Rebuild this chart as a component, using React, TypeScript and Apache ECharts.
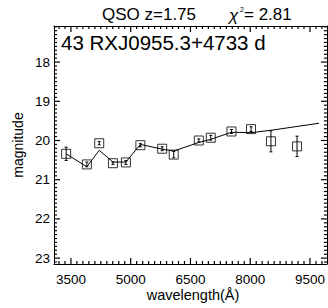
import React, { useEffect, useRef } from "react";
import * as echarts from "echarts";

const wavelengths = [3380, 3900, 4210, 4555, 4880, 5243, 5790, 6080, 6710, 7010, 7530, 8020, 8520, 9175];
const magnitudes = [20.34, 20.61, 20.07, 20.58, 20.56, 20.12, 20.21, 20.36, 20.0, 19.93, 19.77, 19.71, 20.02, 20.15];
const errors = [0.17, 0.06, 0.04, 0.03, 0.05, 0.04, 0.05, 0.08, 0.04, 0.06, 0.05, 0.06, 0.27, 0.26];
const modelWavelengths = [3380, 3900, 4210, 4555, 4880, 5243, 5790, 6080, 6710, 7010, 7530, 8020, 8520, 9725];
const modelMagnitudes = [20.34, 20.67, 20.25, 20.55, 20.55, 20.1, 20.22, 20.27, 20.05, 19.97, 19.79, 19.8, 19.74, 19.56];
const xTickLabels = [3500, 5000, 6500, 8000, 9500];
const yTickLabels = [18, 19, 20, 21, 22, 23];
const xRange = [3075, 9925];
const yRange = [17.08, 23.15];

const FONT = "Liberation Sans, Arial, Helvetica, sans-serif";

function minorTicks(start: number, step: number, lo: number, hi: number, skip: number[]) {
  const out: number[] = [];
  const n0 = Math.ceil((lo - start) / step);
  const n1 = Math.floor((hi - start) / step);
  for (let k = n0; k <= n1; k++) {
    const v = Math.round((start + k * step) * 1000) / 1000;
    if (!skip.some((s) => Math.abs(s - v) < 1e-6)) out.push(v);
  }
  return out;
}

export default function App() {
  const ref = useRef<HTMLDivElement>(null);
  useEffect(() => {
    if (!ref.current) return;
    const chart = echarts.init(ref.current, null, { renderer: "svg" });
    const xMinor = minorTicks(3500, 150, xRange[0], xRange[1], xTickLabels);
    const yMinor = minorTicks(18, 0.1, yRange[0], yRange[1], yTickLabels);
    const lineStyle = { color: "#000", width: 1 };

    const errData = wavelengths.map((w, i) => [w, magnitudes[i], errors[i]]);
    const ptData = wavelengths.map((w, i) => [w, magnitudes[i]]);
    const modelData = modelWavelengths.map((w, i) => [w, modelMagnitudes[i]]);
    const tickData: number[][] = [
      ...xTickLabels.map((v) => [v, yRange[1], 6, 0]),
      ...xMinor.map((v) => [v, yRange[1], 3, 0]),
      ...yTickLabels.map((v) => [xRange[0], v, 6, 1]),
      ...yMinor.map((v) => [xRange[0], v, 3, 1]),
    ];

    const texts: any[] = [
      { type: "text", x: 102, y: 14, style: { text: "QSO z=1.75", fontFamily: FONT, fontSize: 17, fill: "#000", textAlign: "left", textVerticalAlign: "middle" } },
      { type: "text", x: 229, y: 15, style: { text: "χ", fontFamily: FONT, fontSize: 17, fontStyle: "italic", fill: "#000", textAlign: "left", textVerticalAlign: "middle" } },
      { type: "text", x: 240, y: 9, style: { text: "2", fontFamily: FONT, fontSize: 7, fill: "#000", textAlign: "left", textVerticalAlign: "middle" } },
      { type: "text", x: 244, y: 14, style: { text: "= 2.81", fontFamily: FONT, fontSize: 17, fill: "#000", textAlign: "left", textVerticalAlign: "middle" } },
      { type: "text", x: 61, y: 42, style: { text: "43 RXJ0955.3+4733 d", fontFamily: FONT, fontSize: 20.5, fill: "#000", textAlign: "left", textVerticalAlign: "middle" } },
      { type: "text", x: 193, y: 295, style: { text: "wavelength(Å)", fontFamily: FONT, fontSize: 14.5, fill: "#000", textAlign: "center", textVerticalAlign: "middle" } },
      { type: "text", x: 18, y: 145, rotation: Math.PI / 2, style: { text: "magnitude", fontFamily: FONT, fontSize: 14, fill: "#000", textAlign: "center", textVerticalAlign: "middle" } },
    ];

    const valueAxis = (extra: any) => ({
      type: "value",
      axisLine: { show: true, lineStyle },
      splitLine: { show: false },
      axisTick: { show: false },
      ...extra,
    });

    chart.setOption({
      animation: false,
      grid: { left: 54, right: 0, top: 26, bottom: 44, containLabel: false },
      xAxis: [
        valueAxis({
          min: xRange[0],
          max: xRange[1],
          axisLabel: {
            show: true,
            customValues: xTickLabels,
            showMaxLabel: true,
            showMinLabel: true,
            formatter: (v: number) => String(v),
            color: "#000",
            fontFamily: FONT,
            fontSize: 13.5,
            margin: 8,
          },
        }),
        valueAxis({ position: "top", min: xRange[0], max: xRange[1], axisLabel: { show: false } }),
      ],
      yAxis: [
        valueAxis({
          min: yRange[0],
          max: yRange[1],
          inverse: true,
          axisLabel: {
            show: true,
            customValues: yTickLabels,
            showMaxLabel: true,
            showMinLabel: true,
            formatter: (v: number) => String(v),
            color: "#000",
            fontFamily: FONT,
            fontSize: 13.5,
            margin: 4,
          },
        }),
        valueAxis({ position: "right", min: yRange[0], max: yRange[1], inverse: true, axisLabel: { show: false } }),
      ],
      series: [
        {
          type: "line",
          data: modelData,
          showSymbol: false,
          symbol: "none",
          lineStyle: { color: "#000", width: 1 },
          silent: true,
        },
        {
          type: "custom",
          data: errData,
          encode: { x: 0, y: 1 },
          renderItem: (params: any, api: any) => {
            const x = api.value(0);
            const y = api.value(1);
            const e = api.value(2);
            const t = api.coord([x, y - e]);
            const b = api.coord([x, y + e]);
            const cw = 1.5;
            const st = { stroke: "#000", lineWidth: 1 };
            return {
              type: "group",
              children: [
                { type: "line", shape: { x1: t[0], y1: t[1], x2: b[0], y2: b[1] }, style: st },
                { type: "line", shape: { x1: t[0] - cw, y1: t[1], x2: t[0] + cw, y2: t[1] }, style: st },
                { type: "line", shape: { x1: b[0] - cw, y1: b[1], x2: b[0] + cw, y2: b[1] }, style: st },
              ],
            };
          },
          silent: true,
        },
        {
          type: "custom",
          data: tickData,
          encode: { x: 0, y: 1 },
          z: 10,
          renderItem: (params: any, api: any) => {
            const v0 = api.value(0);
            const v1 = api.value(1);
            const len = api.value(2);
            const orient = api.value(3);
            const st = { stroke: "#000", lineWidth: 1.2 };
            if (orient === 0) {
              const b = api.coord([v0, yRange[1]]);
              const t = api.coord([v0, yRange[0]]);
              return {
                type: "group",
                children: [
                  { type: "line", shape: { x1: b[0], y1: b[1], x2: b[0], y2: b[1] - len }, style: st },
                  { type: "line", shape: { x1: t[0], y1: t[1], x2: t[0], y2: t[1] + len }, style: st },
                ],
              };
            }
            const l = api.coord([xRange[0], v1]);
            const r = api.coord([xRange[1], v1]);
            return {
              type: "group",
              children: [
                { type: "line", shape: { x1: l[0], y1: l[1], x2: l[0] + len, y2: l[1] }, style: st },
                { type: "line", shape: { x1: r[0], y1: r[1], x2: r[0] - len, y2: r[1] }, style: st },
              ],
            };
          },
          silent: true,
        },
        {
          type: "scatter",
          data: ptData,
          symbol: "rect",
          symbolSize: 9,
          itemStyle: { color: "rgba(0,0,0,0)", borderColor: "#000", borderWidth: 1 },
          silent: true,
        },
      ],
      graphic: texts,
    });

    return () => chart.dispose();
  }, []);
  return <div ref={ref} style={{ position: "absolute", left: 0, top: 0, width: 328, height: 308, background: "#fff" }} />;
}
